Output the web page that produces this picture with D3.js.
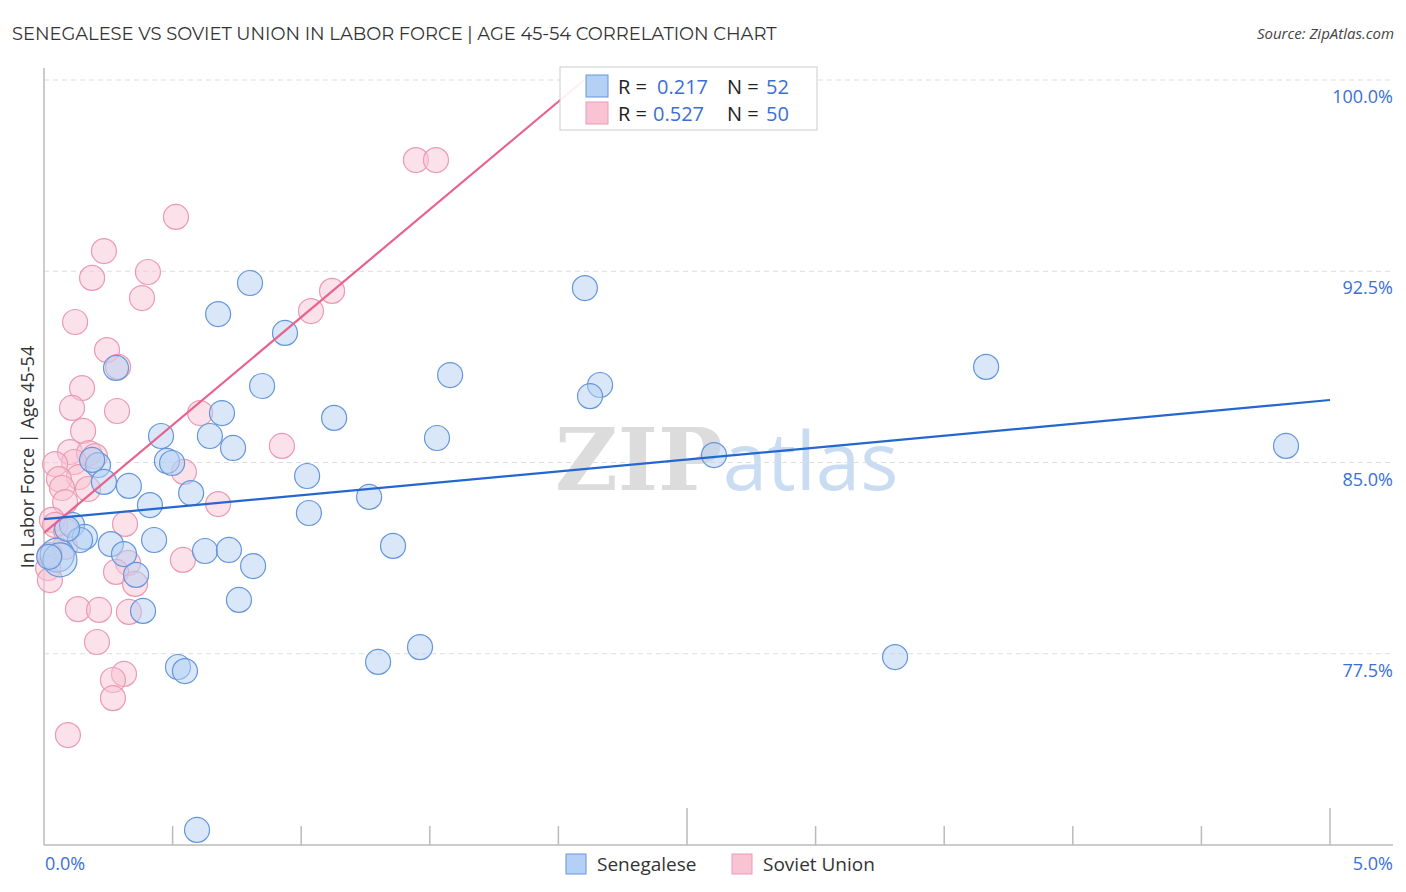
<!DOCTYPE html>
<html><head><meta charset="utf-8">
<script src="https://cdn.jsdelivr.net/npm/d3@7"></script>
<style>body{margin:0;background:#fff}svg{display:block;font-family:"Open Sans",Roboto,sans-serif}</style>
</head><body><svg id="c" width="1406" height="892"></svg>
<script>
const title = "SENEGALESE VS SOVIET UNION IN LABOR FORCE | AGE 45-54 CORRELATION CHART";
const source = "Source: ZipAtlas.com";
const yLabel = "In Labor Force | Age 45-54";
const seriesNames = ["Senegalese", "Soviet Union"];
const rValues = ["0.217", "0.527"];
const nValues = ["52", "50"];
const yTicks = [77.5, 85.0, 92.5, 100.0];
const xTickLabels = ["0.0%", "5.0%"];

// Senegalese [x%, y%, big]
const senegalese = [
 [0.801,92.04],[0.677,90.82],[0.937,90.08],[0.280,88.71],[0.848,88.00],[1.579,88.43],
 [2.103,91.84],[2.162,88.04],[2.123,87.60],[3.663,88.75],[4.829,85.65],[2.605,85.29],
 [1.528,85.96],[1.128,86.75],[0.692,86.94],[0.645,86.04],[0.455,86.04],[0.735,85.57],
 [0.478,85.06],[0.498,84.98],[0.210,84.90],[0.187,85.10],[1.023,84.47],[0.572,83.80],
 [0.330,84.08],[0.233,84.24],[0.412,83.33],[1.264,83.65],[1.030,83.02],[0.109,82.55],
 [0.159,82.08],[0.140,81.96],[0.260,81.80],[0.428,81.96],[1.357,81.73],[0.311,81.41],
 [0.626,81.53],[0.719,81.57],[0.051,81.37,1],[0.062,81.18,1],[0.813,80.94],[0.358,80.59],
 [0.758,79.61],[0.385,79.18],[0.521,76.98],[0.548,76.82],[1.299,77.18],[1.462,77.76],
 [3.309,77.37],[0.595,70.59],[0.020,81.30],[0.090,82.40]
];
const sovietUnion = [
 [1.446,96.86],[1.524,96.86],[0.513,94.63],[0.233,93.29],[0.404,92.47],[0.187,92.24],
 [1.120,91.73],[0.381,91.45],[1.038,90.94],[0.121,90.51],[0.245,89.41],[0.288,88.75],
 [0.148,87.92],[0.109,87.14],[0.284,87.02],[0.607,86.94],[0.152,86.24],[0.925,85.65],
 [0.101,85.41],[0.175,85.37],[0.198,85.25],[0.117,85.02],[0.043,84.94],[0.544,84.63],
 [0.136,84.43],[0.058,84.35],[0.070,84.00],[0.171,83.96],[0.677,83.37],[0.082,83.45],
 [0.031,82.75],[0.043,82.55],[0.315,82.59],[0.086,82.31],[0.082,81.69],[0.540,81.18],
 [0.327,81.06],[0.280,80.71],[0.016,80.86],[0.354,80.24],[0.023,80.39],[0.132,79.25],
 [0.214,79.22],[0.330,79.14],[0.206,77.96],[0.311,76.71],[0.268,76.47],[0.268,75.76],
 [0.093,74.31],[0.023,81.37]
];
const senegaleseTrend = [[0, 82.78], [5, 87.45]];
const sovietTrend = [[0, 82.24], [2.1, 100.0]];

const blueFill = "#b4d0f4", blueStroke = "#6496dc", blueLine = "#2467d0";
const pinkFill = "#f8c4d3", pinkStroke = "#eb9ab3", pinkLine = "#e8628d";
const textBlue = "#3b6fd4";

const svg = d3.select("#c");
const x = d3.scaleLinear().domain([0, 5]).range([44, 1330]);
const y = d3.scaleLinear().domain([70, 100]).range([845, 80]);

// title & source
svg.append("text").attr("x", 12).attr("y", 40).attr("fill", "#333").attr("font-size", 17.9)
  .attr("font-family", "Montserrat, 'Open Sans', sans-serif").text(title);
svg.append("text").attr("x", 1394).attr("y", 39).attr("text-anchor", "end").attr("fill", "#444")
  .attr("font-size", 15).attr("font-style", "italic").text(source);

// watermark
const wm = svg.append("text").attr("x", 555).attr("y", 490).attr("text-anchor", "start");
wm.append("tspan").attr("fill", "#dcdcdc").attr("font-size", 86).attr("font-family", "'DejaVu Serif', serif").attr("font-weight", "bold").text("ZIP");
wm.append("tspan").attr("fill", "#c9dcf2").attr("font-size", 80).attr("font-family", "'Open Sans', sans-serif").text("atlas");

// gridlines
svg.append("g").selectAll("line").data(yTicks).join("line")
  .attr("x1", 44).attr("x2", 1393).attr("y1", d => y(d)).attr("y2", d => y(d))
  .attr("stroke", "#ddd").attr("stroke-dasharray", "5,4");
svg.append("g").selectAll("text").data(yTicks).join("text")
  .attr("x", 1393).attr("y", d => y(d) + 23).attr("text-anchor", "end")
  .attr("fill", textBlue).attr("font-size", 18).text(d => d.toFixed(1) + "%");

// axes
const xAxis = d3.axisBottom(x).tickValues(d3.range(0, 5.01, 0.5)).tickSize(0).tickFormat("");
const gx = svg.append("g").attr("transform", "translate(0,845)").call(xAxis);
gx.select(".domain").remove();
svg.append("line").attr("x1", 44).attr("x2", 1393).attr("y1", 845).attr("y2", 845).attr("stroke", "#bbb").attr("stroke-width", 1.5);
svg.append("line").attr("x1", 44).attr("x2", 44).attr("y1", 68).attr("y2", 845).attr("stroke", "#bbb").attr("stroke-width", 1.5);
svg.append("g").selectAll("line").data(d3.range(1, 11)).join("line")
  .attr("x1", d => x(d * 0.5)).attr("x2", d => x(d * 0.5))
  .attr("y1", d => d % 5 === 0 ? 808 : 826).attr("y2", 845)
  .attr("stroke", "#bbb").attr("stroke-width", 1.5);
svg.append("text").attr("x", 45).attr("y", 870).attr("fill", textBlue).attr("font-size", 18).text(xTickLabels[0]);
svg.append("text").attr("x", 1393).attr("y", 870).attr("text-anchor", "end").attr("fill", textBlue).attr("font-size", 18).text(xTickLabels[1]);

// y label
svg.append("text").attr("transform", "translate(34,457) rotate(-90)").attr("text-anchor", "middle")
  .attr("fill", "#333").attr("font-size", 18).text(yLabel);

// points
function dots(data, fill, stroke) {
  svg.append("g").selectAll("circle").data(data).join("circle")
    .attr("cx", d => x(d[0])).attr("cy", d => y(d[1])).attr("r", d => d[2] ? 17 : 12.5)
    .attr("fill", fill).attr("fill-opacity", 0.5).attr("stroke", stroke).attr("stroke-width", 1.2);
}
dots(sovietUnion, pinkFill, pinkStroke);
dots(senegalese, blueFill, blueStroke);

// trend lines
const line = d3.line().x(d => x(d[0])).y(d => y(d[1]));
svg.append("path").attr("d", line(sovietTrend)).attr("stroke", pinkLine).attr("stroke-width", 2.2).attr("fill", "none");
svg.append("path").attr("d", line(senegaleseTrend)).attr("stroke", blueLine).attr("stroke-width", 2.2).attr("fill", "none");

// top legend
const lg = svg.append("g");
lg.append("rect").attr("x", 560).attr("y", 67).attr("width", 257).attr("height", 63)
  .attr("fill", "#fff").attr("fill-opacity", 0.9).attr("stroke", "#ccc");
[[blueFill, blueStroke], [pinkFill, pinkStroke]].forEach((c, i) => {
  const yy = 75 + i * 27;
  lg.append("rect").attr("x", 586).attr("y", yy).attr("width", 22).attr("height", 22)
    .attr("fill", c[0]).attr("stroke", c[1]);
  const t = lg.append("text").attr("y", yy + 19).attr("font-size", 20);
  t.append("tspan").attr("x", 618).attr("fill", "#222").text("R = ");
  t.append("tspan").attr("x", i === 0 ? 657 : 653).attr("fill", textBlue).text(rValues[i]);
  t.append("tspan").attr("x", 727).attr("fill", "#222").text("N = ");
  t.append("tspan").attr("x", 766).attr("fill", textBlue).text(nValues[i]);
});

// bottom legend
const bl = svg.append("g");
[[blueFill, blueStroke, 566, 597], [pinkFill, pinkStroke, 732, 763]].forEach((c, i) => {
  bl.append("rect").attr("x", c[2]).attr("y", 854).attr("width", 20).attr("height", 20)
    .attr("fill", c[0]).attr("stroke", c[1]);
  bl.append("text").attr("x", c[3]).attr("y", 871).attr("fill", "#333").attr("font-size", 19).text(seriesNames[i]);
});
</script></body></html>
